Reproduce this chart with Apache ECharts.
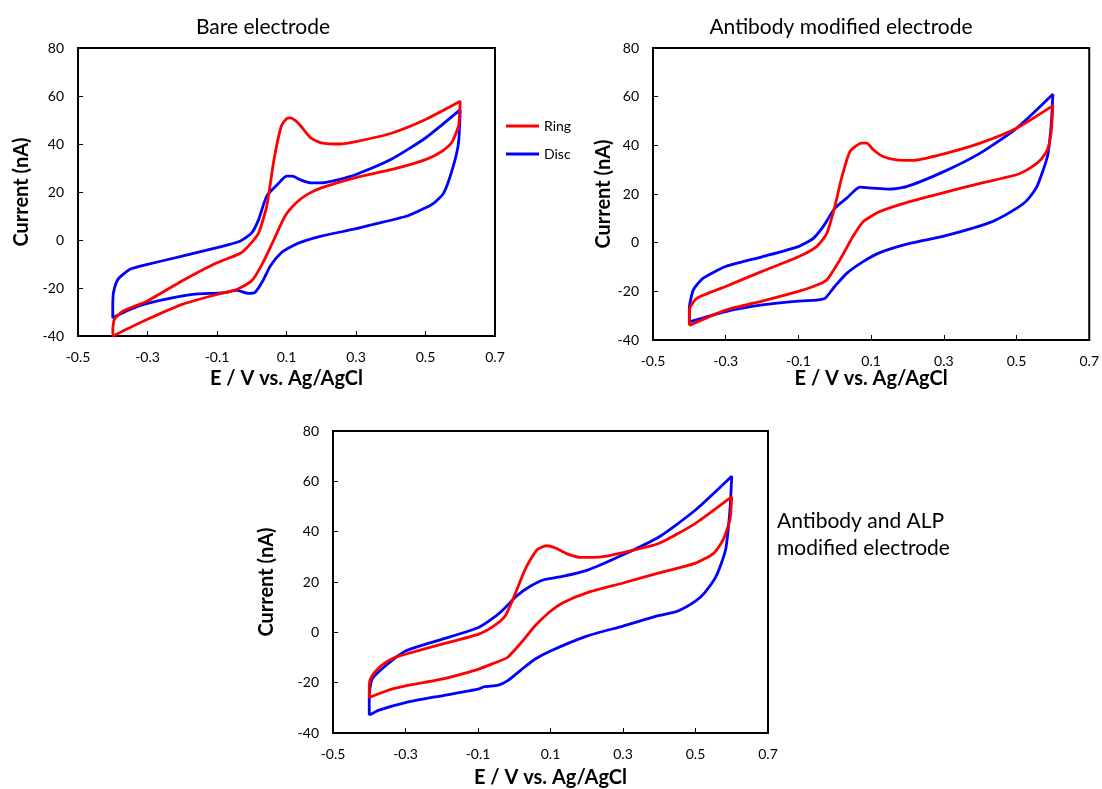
<!DOCTYPE html>
<html>
<head>
<meta charset="utf-8">
<script src="https://cdn.jsdelivr.net/npm/echarts@6/dist/echarts.min.js"></script>
<style>
html,body{margin:0;padding:0;background:#fff;}
#chart{width:1102px;height:789px;}
</style>
</head>
<body>
<div id="chart"></div>
<script>
// ---- data (E in V, I in nA) ----
var panelTitles = ['Bare electrode', 'Antibody modified electrode', 'Antibody and ALP\nmodified electrode'];
var seriesNames = ['Ring', 'Disc'];
var xTicks = [-0.5, -0.3, -0.1, 0.1, 0.3, 0.5, 0.7];
var yTicks = [-40, -20, 0, 20, 40, 60, 80];

var bareRing = [
[-0.4,-37],[-0.395,-33],[-0.37,-29.6],[-0.3,-25.4],[-0.2,-17],[-0.1,-9.5],[-0.03,-5.3],[0.0,-1],[0.02,3],[0.043,14],[0.064,33.5],[0.085,47.4],[0.1,50.5],[0.112,50.9],[0.125,49.8],[0.138,48],[0.17,42.5],[0.2,40.5],[0.253,40],[0.3,41],[0.404,44.6],[0.5,50.2],[0.6,57.8],
[0.598,52],[0.595,47.4],[0.575,40.5],[0.548,37],[0.5,33.5],[0.404,29.4],[0.3,26],[0.2,21.7],[0.16,19],[0.128,15.5],[0.096,10],[0.064,0.2],[0.032,-9.5],[0.0,-17],[-0.043,-20.6],[-0.1,-22.7],[-0.2,-26.8],[-0.3,-33],[-0.372,-38],[-0.399,-40],[-0.4,-37]
];
var bareDisc = [
[-0.4,-27],[-0.398,-22],[-0.385,-16.4],[-0.35,-12.2],[-0.3,-10.2],[-0.2,-6.7],[-0.1,-3.2],[-0.034,-0.5],[0.0,3],[0.02,8.6],[0.043,18.3],[0.074,23.1],[0.1,26.6],[0.117,26.6],[0.138,25.2],[0.17,23.8],[0.2,23.8],[0.25,25.2],[0.3,27.3],[0.4,33.5],[0.5,42.5],[0.6,54.3],
[0.595,40.5],[0.58,30.8],[0.553,19.7],[0.525,15.5],[0.5,13.4],[0.447,10],[0.35,6.5],[0.3,4.7],[0.2,1.6],[0.15,-0.5],[0.117,-2.5],[0.085,-5.3],[0.053,-10.9],[0.032,-17],[0.01,-21.7],[-0.01,-22.2],[-0.043,-21],[-0.085,-22],[-0.17,-22.7],[-0.3,-26.4],[-0.35,-28.9],[-0.4,-32.4],[-0.4,-27]
];
var abRing = [
[-0.4,-34],[-0.4,-27.7],[-0.38,-22.9],[-0.3,-18],[-0.2,-11.8],[-0.1,-5.8],[-0.05,-1.6],[-0.022,3.8],[0.0,14.8],[0.02,27.2],[0.042,37.5],[0.074,40.9],[0.088,40.9],[0.106,38.2],[0.133,35.4],[0.17,34],[0.215,33.8],[0.3,36.5],[0.4,40.9],[0.5,47],[0.6,56.3],
[0.595,45],[0.585,38.2],[0.566,34],[0.53,30],[0.5,27.9],[0.4,24.4],[0.3,20.6],[0.206,16.9],[0.124,12.8],[0.078,8.6],[0.05,2.5],[0.014,-7.1],[-0.022,-15.3],[-0.059,-18],[-0.1,-20],[-0.2,-24],[-0.3,-27.7],[-0.4,-34]
];
var abDisc = [
[-0.4,-32.5],[-0.4,-27],[-0.389,-19.4],[-0.362,-14.6],[-0.3,-9.8],[-0.2,-5.8],[-0.1,-1.6],[-0.059,1.8],[-0.032,6.6],[0.0,14.1],[0.033,18.3],[0.069,22.8],[0.106,22.4],[0.15,22],[0.197,23],[0.3,29.2],[0.4,36.8],[0.5,47],[0.6,61],
[0.595,47.8],[0.585,35.4],[0.556,23],[0.53,17.6],[0.5,14.1],[0.443,9.3],[0.4,6.9],[0.3,2.7],[0.206,-0.3],[0.124,-4.1],[0.078,-7.8],[0.033,-12.6],[0.0,-18],[-0.027,-22.9],[-0.05,-23.6],[-0.1,-24],[-0.2,-25.6],[-0.3,-28.3],[-0.4,-32.5]
];
var alpRing = [
[-0.4,-22],[-0.398,-19],[-0.386,-16],[-0.365,-13],[-0.33,-10],[-0.3,-8.7],[-0.2,-4.7],[-0.1,-0.8],[-0.057,2.5],[-0.025,6.5],[0.0,14.4],[0.032,25.6],[0.063,32.8],[0.089,34.4],[0.114,33.5],[0.146,31.2],[0.184,29.8],[0.234,29.9],[0.3,31.7],[0.4,35.4],[0.5,43.3],[0.6,53.9],
[0.595,44.7],[0.576,36.7],[0.551,31.5],[0.5,27.5],[0.4,23.6],[0.3,19.6],[0.2,15.7],[0.133,11.7],[0.095,7.8],[0.057,2.5],[0.019,-4.1],[-0.019,-10],[-0.057,-12.3],[-0.1,-14.7],[-0.2,-18.6],[-0.3,-21.3],[-0.348,-23],[-0.4,-25.9],[-0.4,-22]
];
var alpDisc = [
[-0.4,-32.9],[-0.4,-25.2],[-0.392,-18.6],[-0.355,-13.3],[-0.3,-7.4],[-0.2,-2.8],[-0.1,1.8],[-0.057,5.8],[-0.025,9.8],[0.006,14.4],[0.044,18.3],[0.082,20.9],[0.133,22.2],[0.2,24.6],[0.3,30.8],[0.4,38],[0.5,48.6],[0.6,62],
[0.595,48.6],[0.583,32.8],[0.557,22.3],[0.525,15.7],[0.5,12.4],[0.45,8.4],[0.4,6.7],[0.3,2.5],[0.2,-1.5],[0.1,-7.4],[0.057,-10.7],[0.019,-14.9],[-0.019,-19.3],[-0.044,-21],[-0.082,-21.6],[-0.1,-22.6],[-0.2,-25.2],[-0.3,-27.9],[-0.373,-30.9],[-0.4,-32.9]
];

// ---- layout ----
var FONT = 'Lato, "Open Sans", sans-serif';
var grids = [
  {left: 78, top: 48, width: 417, height: 288},
  {left: 653, top: 48, width: 437, height: 292},
  {left: 333, top: 431, width: 435, height: 303}
];
var xNameGaps = [33, 29, 35];
var yNameGaps = [46, 36, 56];
var panelData = [[bareRing, bareDisc], [abRing, abDisc], [alpRing, alpDisc]];
var colors = ['#ff0000', '#0000ff'];

var xAxes = [], yAxes = [], series = [];
grids.forEach(function (g, i) {
  g.show = true;
  g.borderColor = '#000';
  g.borderWidth = 2;
  g.containLabel = false;
  xAxes.push({
    gridIndex: i, type: 'value',
    min: xTicks[0], max: xTicks[xTicks.length - 1], interval: 0.2,
    name: 'E / V vs. Ag/AgCl', nameLocation: 'middle', nameGap: xNameGaps[i],
    nameTextStyle: {fontFamily: FONT, fontWeight: 'bold', fontSize: 20, color: '#000'},
    axisLine: {show: true, onZero: false, lineStyle: {color: '#000', width: 2}},
    axisTick: {show: true, inside: true, length: 5, lineStyle: {color: '#000', width: 1}},
    axisLabel: {margin: 14, fontFamily: FONT, fontSize: 14, color: '#000',
      formatter: function (v) { return String(Math.round(v * 10) / 10); }},
    splitLine: {show: false}
  });
  yAxes.push({
    gridIndex: i, type: 'value',
    min: yTicks[0], max: yTicks[yTicks.length - 1], interval: 20,
    name: 'Current (nA)', nameLocation: 'middle', nameGap: yNameGaps[i], nameRotate: 90,
    nameTextStyle: {fontFamily: FONT, fontWeight: 'bold', fontSize: 20, color: '#000'},
    axisLine: {show: true, onZero: false, lineStyle: {color: '#000', width: 2}},
    axisTick: {show: true, inside: true, length: 5, lineStyle: {color: '#000', width: 1}},
    axisLabel: {margin: 14, fontFamily: FONT, fontSize: 14, color: '#000'},
    splitLine: {show: false}
  });
  panelData[i].forEach(function (d, k) {
    series.push({
      name: seriesNames[k], type: 'line', xAxisIndex: i, yAxisIndex: i,
      data: d, showSymbol: false, symbol: 'none', smooth: 0.2,
      lineStyle: {color: colors[k], width: 2.8}, itemStyle: {color: colors[k]},
      z: k === 0 ? 3 : 2
    });
  });
});

var option = {
  animation: false,
  backgroundColor: '#fff',
  title: [
    {text: panelTitles[0], left: 258, top: 12, textAlign: 'center',
      textStyle: {fontFamily: FONT, fontWeight: 'normal', fontSize: 21, color: '#000'}},
    {text: panelTitles[1], left: 836, top: 12, textAlign: 'center',
      textStyle: {fontFamily: FONT, fontWeight: 'normal', fontSize: 21, color: '#000'}},
    {text: panelTitles[2], left: 772, top: 503,
      textStyle: {fontFamily: FONT, fontWeight: 'normal', fontSize: 21, lineHeight: 27, color: '#000'}}
  ],
  legend: {
    data: seriesNames, orient: 'vertical', left: 501, top: 113,
    icon: 'rect', itemWidth: 33, itemHeight: 3, itemGap: 12,
    textStyle: {fontFamily: FONT, fontSize: 14, color: '#000', lineHeight: 16}
  },
  grid: grids,
  xAxis: xAxes,
  yAxis: yAxes,
  series: series
};

var chart = echarts.init(document.getElementById('chart'), null, {renderer: 'canvas'});
chart.setOption(option);
</script>
</body>
</html>
